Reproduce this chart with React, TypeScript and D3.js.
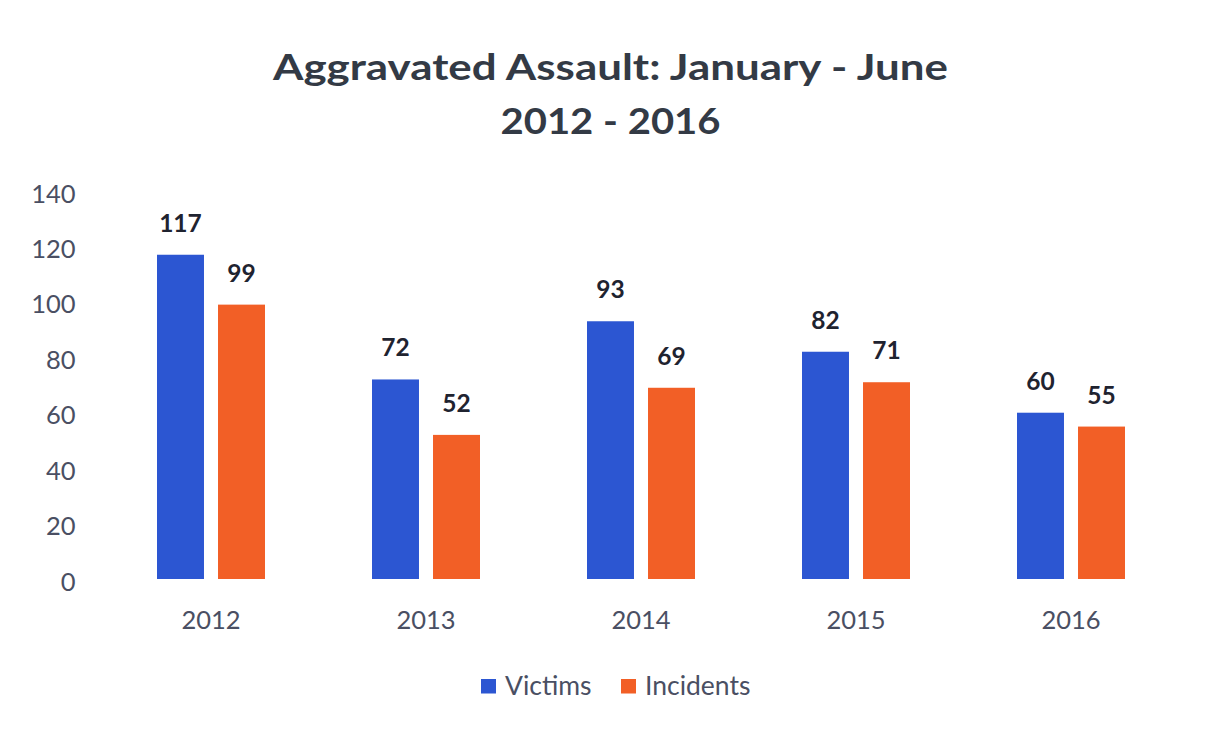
import React from "react";
import * as d3 from "d3";

const years = ["2012", "2013", "2014", "2015", "2016"];
const victims = [117, 72, 93, 82, 60];
const incidents = [99, 52, 69, 71, 55];
const seriesNames = ["Victims", "Incidents"];
const seriesColors = ["#2c56d2", "#f25f26"];
const yTicks = [0, 20, 40, 60, 80, 100, 120, 140];
const titleLines = ["Aggravated Assault: January - June", "2012 - 2016"];

const W = 1211;
const H = 731;
const FONT = "Lato, 'Open Sans', sans-serif";
const TEXT = "#4a4f63";

export default function App() {
  const x = d3.scaleBand<string>().domain(years).range([103.5, 1178.5]).padding(0);
  const step = x.step();
  const x1 = d3
    .scaleBand<string>()
    .domain(seriesNames)
    .range([step / 2 - 54, step / 2 + 54])
    .paddingInner(0.23)
    .paddingOuter(0);
  const y = d3.scaleLinear().domain([0, 140]).range([579, 191]);
  const seriesValues = [victims, incidents];
  const titleBase = [80, 134];
  const titleLen = [675, 220];

  return (
    <svg
      width={W}
      height={H}
      style={{ position: "absolute", left: 0, top: 0, background: "#fff" }}
      fontFamily={FONT}
    >
      <rect x={0} y={0} width={W} height={H} fill="#fff" />
      {titleLines.map((t, i) => (
        <text
          key={t}
          x={610.5}
          y={titleBase[i]}
          textAnchor="middle"
          fontSize={37}
          fontWeight={700}
          fill="#333a45"
          textLength={titleLen[i]}
          lengthAdjust="spacingAndGlyphs"
        >
          {t}
        </text>
      ))}
      {yTicks.map((t) => (
        <text
          key={t}
          x={75.5}
          y={y(t) + 11.5}
          textAnchor="end"
          fontSize={25.5}
          fill={TEXT}
        >
          {t}
        </text>
      ))}
      {years.map((yr, i) => (
        <g key={yr} transform={`translate(${x(yr)},0)`}>
          {seriesNames.map((s, j) => {
            const v = seriesValues[j][i];
            const bx = x1(s)!;
            const bw = x1.bandwidth();
            return (
              <g key={s}>
                <rect
                  x={bx}
                  y={y(v)}
                  width={bw}
                  height={y(0) - y(v)}
                  fill={seriesColors[j]}
                />
                <text
                  x={bx + bw / 2}
                  y={y(v) - 23}
                  textAnchor="middle"
                  fontSize={24.5}
                  fontWeight={700}
                  fill="#1f2330"
                >
                  {v}
                </text>
              </g>
            );
          })}
          <text
            x={step / 2}
            y={628.5}
            textAnchor="middle"
            fontSize={25.5}
            fill={TEXT}
          >
            {yr}
          </text>
        </g>
      ))}
      {seriesNames.map((s, j) => {
        const lx = [481, 621][j];
        return (
          <g key={s}>
            <rect x={lx} y={679} width={15} height={14.5} fill={seriesColors[j]} />
            <text x={lx + 24} y={695} fontSize={26.5} fill={TEXT}>
              {s}
            </text>
          </g>
        );
      })}
    </svg>
  );
}
